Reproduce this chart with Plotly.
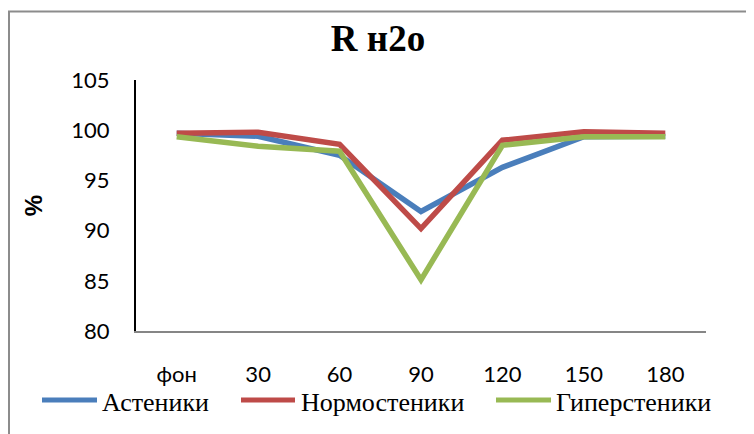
import plotly.graph_objects as go

categories = ["фон", "30", "60", "90", "120", "150", "180"]
astenics = [99.7, 99.4, 97.5, 91.9, 96.3, 99.35, 99.4]
normostenics = [99.7, 99.8, 98.6, 90.2, 99.0, 99.85, 99.7]
hyperstenics = [99.35, 98.4, 97.9, 85.1, 98.5, 99.35, 99.35]
series_names = ["Астеники", "Нормостеники", "Гиперстеники"]
colors = ["#4A7EBB", "#BE4B48", "#98B954"]
y_ticks = [80, 85, 90, 95, 100, 105]

OFF = 8  # default page body margin
W, H = 754 - OFF, 434 - OFF
L, R, T, B = 136 - OFF, 48, 80 - OFF, 103
pw = W - L - R
ph = H - T - B

def px_x(x):
    return (x - OFF - L) / pw

def px_y(y):
    return (H - B - (y - OFF)) / ph

fig = go.Figure()
for name, vals, c in zip(series_names, [astenics, normostenics, hyperstenics], colors):
    fig.add_trace(go.Scatter(x=categories, y=vals, mode="lines", name=name,
                             line=dict(color=c, width=5.5), showlegend=False))

tick_font = dict(family="Lato, 'Open Sans', sans-serif", size=22, color="#000000")
legend_font = dict(family="'Liberation Serif', 'Times New Roman', serif", size=26, color="#000")

# manual legend (line sample + label) laid out like the original
legend_line_x = [(42, 97), (241, 295), (496, 551)]
legend_text_x = [100, 299, 554]
shapes = [dict(type="rect", xref="paper", yref="paper",
               x0=px_x(9), x1=1.3, y0=-0.6, y1=px_y(11.5),
               line=dict(color="#8C8C8C", width=2), fillcolor="rgba(0,0,0,0)", layer="below")]
annotations = []
for name, c, (x0, x1), tx in zip(series_names, colors, legend_line_x, legend_text_x):
    shapes.append(dict(type="line", xref="paper", yref="paper",
                       x0=px_x(x0), x1=px_x(x1), y0=px_y(400), y1=px_y(400),
                       line=dict(color=c, width=5)))
    annotations.append(dict(text=name, xref="paper", yref="paper", x=px_x(tx), y=px_y(402),
                            xanchor="left", yanchor="middle", showarrow=False, font=legend_font))

fig.update_layout(
    width=W, height=H,
    margin=dict(l=L, r=R, t=T, b=B, autoexpand=False),
    paper_bgcolor="white", plot_bgcolor="white",
    title=dict(text="<b>R н2о</b>", x=(378 - OFF) / W, xref="container", xanchor="center",
               y=1 - (38 - OFF) / H, yref="container", yanchor="middle",
               font=dict(family="'Liberation Serif', 'Times New Roman', serif", size=37, color="#000")),
    xaxis=dict(type="category", range=[-0.5, 6.5], showgrid=False, zeroline=False,
               showline=True, linecolor="#868686", linewidth=2, ticks="",
               tickfont=tick_font, ticklabelstandoff=23, automargin=False),
    yaxis=dict(range=[80, 105], tickvals=y_ticks, showgrid=False, zeroline=False,
               showline=True, linecolor="#000000", linewidth=2, ticks="",
               tickfont=tick_font, ticklabelstandoff=20, automargin=False,
               title=dict(text="<b>%</b>", standoff=22,
                          font=dict(family="'Liberation Sans', Arial, sans-serif", size=24, color="#000"))),
    showlegend=False,
    shapes=shapes,
    annotations=annotations,
)

fig.write_html("out.html")
